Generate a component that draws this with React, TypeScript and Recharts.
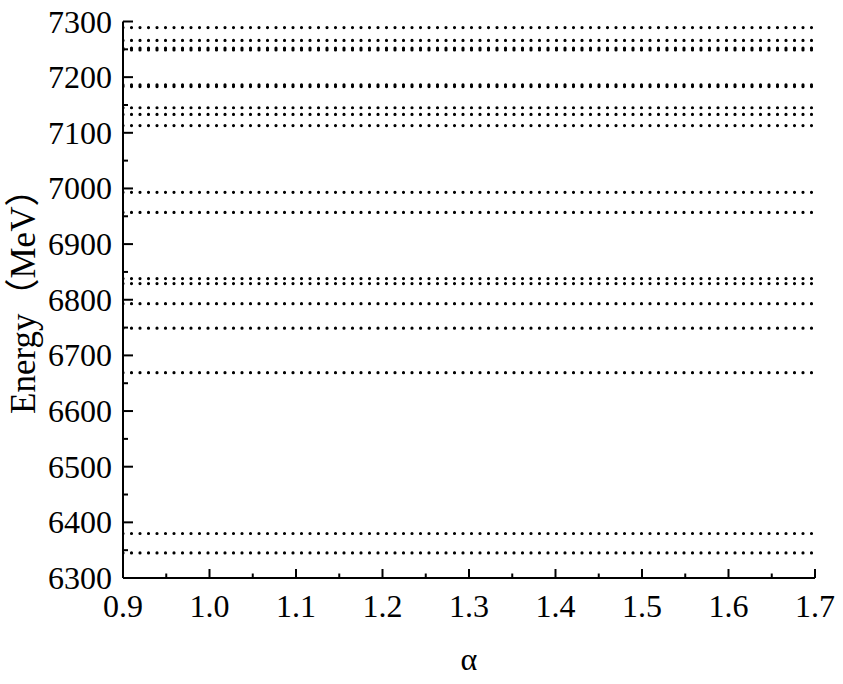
import React from 'react';
import { LineChart, Line, XAxis, YAxis, Label } from 'recharts';

const alphaRange = [0.9, 1.7];
const alphaTicks = [0.9, 1.0, 1.1, 1.2, 1.3, 1.4, 1.5, 1.6, 1.7];
const alphaMinorTicks = [0.95, 1.05, 1.15, 1.25, 1.35, 1.45, 1.55, 1.65];
const energyRange = [6300, 7300];
const energyTicks = [6300, 6400, 6500, 6600, 6700, 6800, 6900, 7000, 7100, 7200, 7300];
const energyMinorTicks = [6350, 6450, 6550, 6650, 6750, 6850, 6950, 7050, 7150, 7250];
const levels = [6345, 6380, 6669, 6749, 6793, 6829, 6838, 6957, 6993, 7113, 7133, 7145, 7183, 7186, 7249, 7252, 7266, 7289];

const FONT = "'Liberation Serif', 'Times New Roman', serif";
const LABEL_FONT = "'Liberation Serif', 'Noto Sans CJK SC', serif";

const levelData = levels.map((e) => alphaRange.map((a) => ({ a, e })));

const isMajor = (list: number[], v: number) => list.some((t) => Math.abs(t - v) < 1e-6);

function XTick(props: any) {
  const { x, y, payload } = props;
  const v = payload.value;
  const major = isMajor(alphaTicks, v);
  return (
    <g>
      <line x1={x} x2={x} y1={y} y2={y - (major ? 9 : 4.5)} stroke="#000" strokeWidth={2} />
      {major && (
        <text x={x} y={y + 39} textAnchor="middle" fontSize={32} fontFamily={FONT} fill="#000">
          {v.toFixed(1)}
        </text>
      )}
    </g>
  );
}

function YTick(props: any) {
  const { x, y, payload } = props;
  const v = payload.value;
  const major = isMajor(energyTicks, v);
  return (
    <g>
      <line x1={x} x2={x + (major ? 10 : 5)} y1={y} y2={y} stroke="#000" strokeWidth={2} />
      {major && (
        <text x={x - 11} y={y + 11} textAnchor="end" fontSize={32} fontFamily={FONT} fill="#000">
          {v}
        </text>
      )}
    </g>
  );
}

function YLabel(props: any) {
  const vb = props.viewBox || { x: 0, y: 0, width: 0, height: 0 };
  const cx = vb.x + 35;
  const cy = vb.y + vb.height / 2 - 7;
  return (
    <text
      x={cx}
      y={cy}
      transform={`rotate(-90, ${cx}, ${cy})`}
      textAnchor="middle"
      fontSize={35}
      fontFamily={LABEL_FONT}
      fill="#000"
    >
      Energy（MeV）
    </text>
  );
}

function XLabel(props: any) {
  const vb = props.viewBox || { x: 0, y: 0, width: 0, height: 0 };
  return (
    <text x={vb.x + vb.width / 2} y={vb.y + 92} textAnchor="middle" fontSize={32} fontFamily={FONT} fill="#000">
      α
    </text>
  );
}

export default function App() {
  return (
    <div style={{ position: 'absolute', left: 0, top: 0, width: 843, height: 684, background: '#fff' }}>
      <LineChart width={843} height={684} margin={{ top: 21.5, right: 28, bottom: 10, left: 0 }}>
        <XAxis
          xAxisId="main"
          type="number"
          dataKey="a"
          domain={alphaRange}
          ticks={[...alphaTicks, ...alphaMinorTicks].sort((p, q) => p - q)}
          interval={0}
          tickSize={0}
          tickMargin={0}
          tickLine={false}
          tick={<XTick />}
          axisLine={{ stroke: '#000', strokeWidth: 2 }}
          height={96}
          allowDataOverflow
        >
          <Label content={<XLabel />} />
        </XAxis>
        <XAxis
          xAxisId="top"
          orientation="top"
          type="number"
          domain={alphaRange}
          height={0}
          tick={false}
          tickLine={false}
          axisLine={{ stroke: '#000', strokeWidth: 2 }}
        />
        <YAxis
          yAxisId="main"
          type="number"
          domain={energyRange}
          ticks={[...energyTicks, ...energyMinorTicks].sort((p, q) => p - q)}
          interval={0}
          tickSize={0}
          tickMargin={0}
          tickLine={false}
          tick={<YTick />}
          axisLine={{ stroke: '#000', strokeWidth: 2 }}
          width={123}
          allowDataOverflow
        >
          <Label content={<YLabel />} />
        </YAxis>
        <YAxis
          yAxisId="right"
          orientation="right"
          type="number"
          domain={energyRange}
          width={0}
          tick={false}
          tickLine={false}
          axisLine={{ stroke: '#000', strokeWidth: 2 }}
        />
        {levelData.map((d, i) => (
          <Line
            key={i}
            xAxisId="main"
            yAxisId="main"
            data={d}
            dataKey="e"
            stroke="#000"
            strokeWidth={3.2}
            strokeLinecap="round"
            strokeDasharray="0 8.5"
            dot={false}
            activeDot={false}
            isAnimationActive={false}
          />
        ))}
      </LineChart>
    </div>
  );
}
